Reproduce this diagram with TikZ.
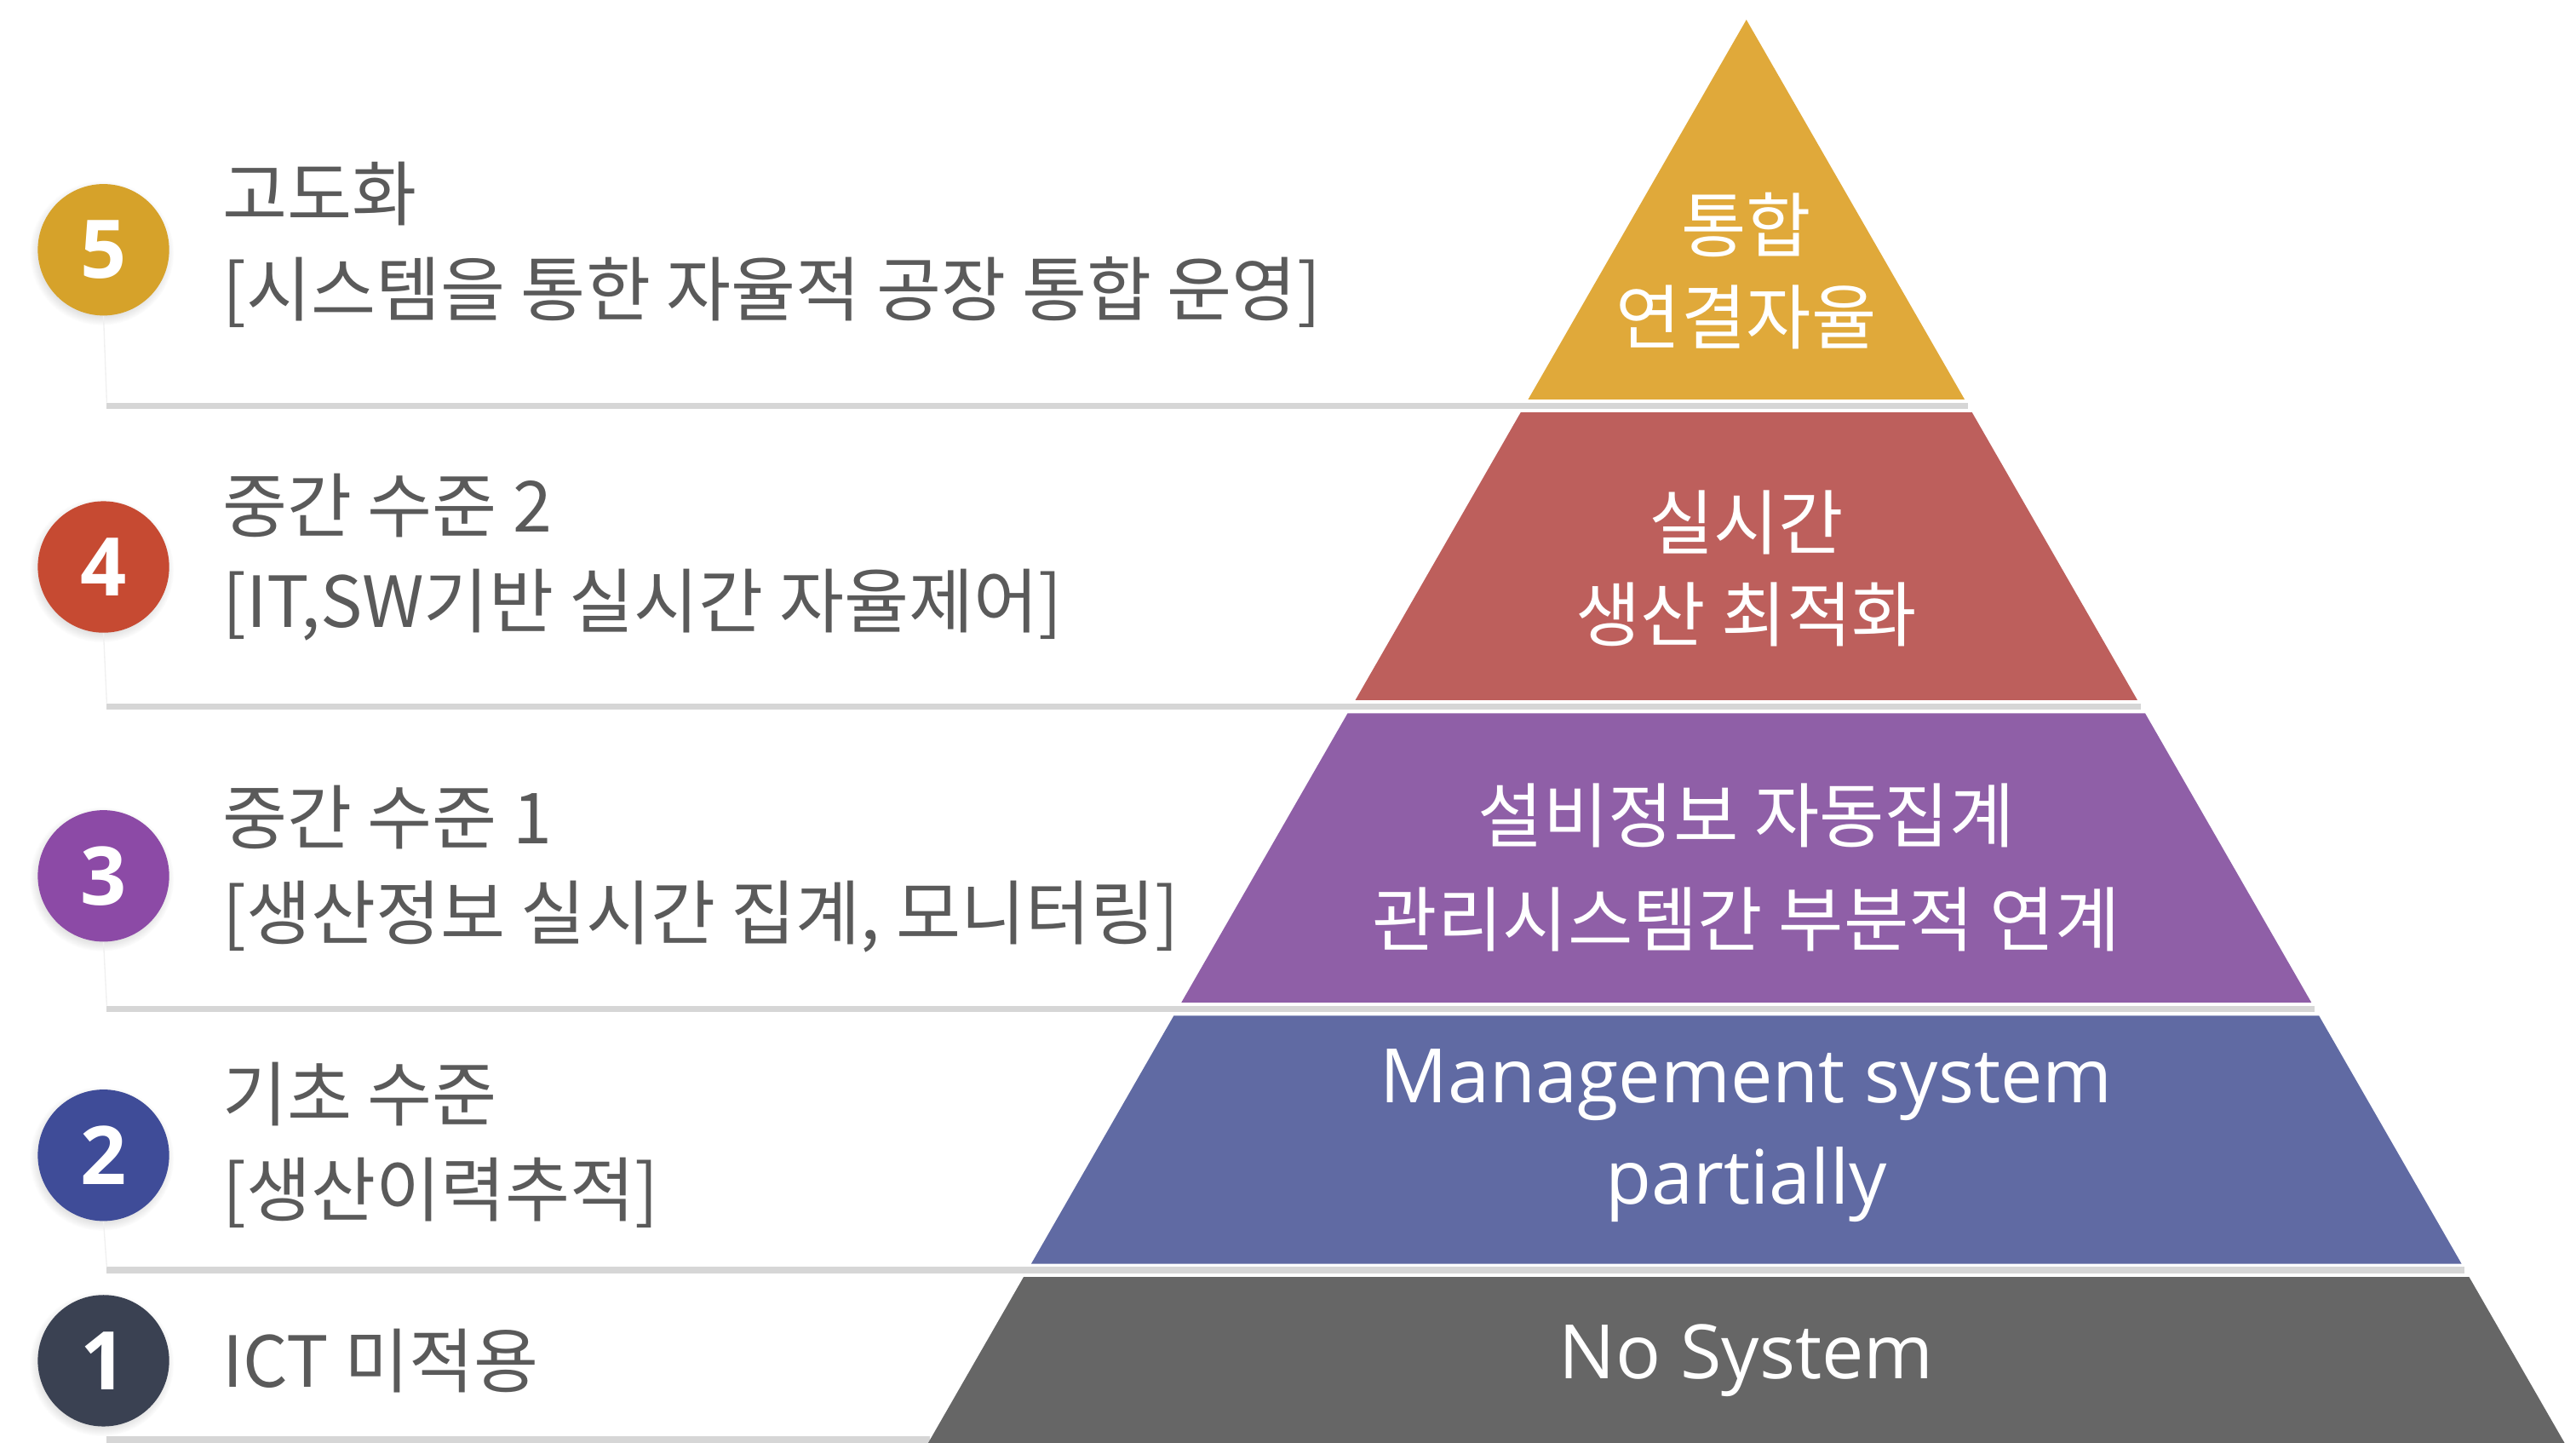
\documentclass[tikz,border=0pt]{standalone}
\usepackage{fontspec}
\setmainfont{Noto Sans CJK KR}
\newfontfamily\latinfont{Open Sans}
\usetikzlibrary{shadows}
\definecolor{goldband}{HTML}{E0A93A}
\definecolor{redband}{HTML}{BD5F5C}
\definecolor{purpleband}{HTML}{8F5FA7}
\definecolor{blueband}{HTML}{606AA3}
\definecolor{grayband}{HTML}{666666}
\definecolor{goldbadge}{HTML}{D6A22A}
\definecolor{redbadge}{HTML}{C64A32}
\definecolor{purplebadge}{HTML}{8C4AA6}
\definecolor{bluebadge}{HTML}{3F4C98}
\definecolor{slatebadge}{HTML}{3A4152}
\definecolor{textgray}{HTML}{5A5A5A}
\definecolor{sepgray}{HTML}{D6D6D6}

\begin{document}
\begin{tikzpicture}[x=0.02cm, y=-0.02cm,
    badge/.style={circle, minimum size=1.6cm, inner sep=0pt, text=white,
      font=\latinfont\bfseries\fontsize{28}{28}\selectfont,
      circular drop shadow={shadow xshift=-0.6pt, shadow yshift=-1pt, opacity=0.25}},
    leveltext/.style={anchor=west, align=left, inner sep=0pt, text=textgray,
      font=\fontsize{24.4}{33}\selectfont},
    bandtext/.style={align=center, inner sep=0pt, text=white,
      font=\fontsize{24.5}{32}\selectfont},
    bandlatin/.style={bandtext, font=\latinfont\fontsize{26}{35}\selectfont},
    sep/.style={line width=0.08cm, draw=sepgray},
    faint/.style={draw=gray!12, line width=0.4pt}]
    \useasboundingbox (0,0) rectangle (1568,878);

    % separator lines under the pyramid
    \draw[sep] (65,247) -- (1198,247);
    \draw[sep] (65,430) -- (1303,430);
    \draw[sep] (65,614) -- (1409,614);
    \draw[sep] (65,773) -- (1500,773);
    \draw[sep] (65,876) -- (566,876);

    % pyramid bands
    \fill[goldband] (1063,12) -- (1195.8,243) -- (930.2,243) -- cycle;
    \fill[redband] (925.6,251) -- (1200.4,251) -- (1301,426) -- (825,426) -- cycle;
    \fill[purpleband] (820.3,434) -- (1305.7,434) -- (1406.9,610) -- (719.1,610) -- cycle;
    \fill[blueband] (714.5,618) -- (1411.5,618) -- (1498.3,769) -- (627.7,769) -- cycle;
    \fill[grayband] (623.1,777) -- (1502.9,777) -- (1561,878) -- (565,878) -- cycle;

    \node[bandtext] (b5) at (1063,165) {통합\\연결자율};
    \node[bandtext] (b4) at (1063,346) {실시간\\생산 최적화};
    \node[bandtext, font=\fontsize{24.5}{36}\selectfont] (b3) at (1063,528) {설비정보 자동집계\\관리시스템간 부분적 연계};
    \node[bandlatin] (b2) at (1063,691) {Management system\\partially};
    \node[bandlatin] (b1) at (1063,828) {No System};

    % level badges
    \node[badge, fill=goldbadge] (c5) at (63,152) {5};
    \node[badge, fill=redbadge] (c4) at (63,345) {4};
    \node[badge, fill=purplebadge] (c3) at (63,533) {3};
    \node[badge, fill=bluebadge] (c2) at (63,703) {2};
    \node[badge, fill=slatebadge] (c1) at (63,828) {1};

    \coordinate (s5) at (65,245);
    \coordinate (s4) at (65,428);
    \coordinate (s3) at (65,612);
    \coordinate (s2) at (65,771);
    \draw[faint] (c5.south) -- (s5);
    \draw[faint] (c4.south) -- (s4);
    \draw[faint] (c3.south) -- (s3);
    \draw[faint] (c2.south) -- (s2);

    \node[leveltext] (t5) at (135,149) {고도화\\{[}시스템을 통한 자율적 공장 통합 운영]};
    \node[leveltext] (t4) at (135,339) {중간 수준 2\\{[}IT,SW기반 실시간 자율제어]};
    \node[leveltext] (t3) at (135,529) {중간 수준 1\\{[}생산정보 실시간 집계, 모니터링]};
    \node[leveltext] (t2) at (135,697) {기초 수준\\{[}생산이력추적]};
    \node[leveltext] (t1) at (135,828) {ICT 미적용};
\end{tikzpicture}
\end{document}
